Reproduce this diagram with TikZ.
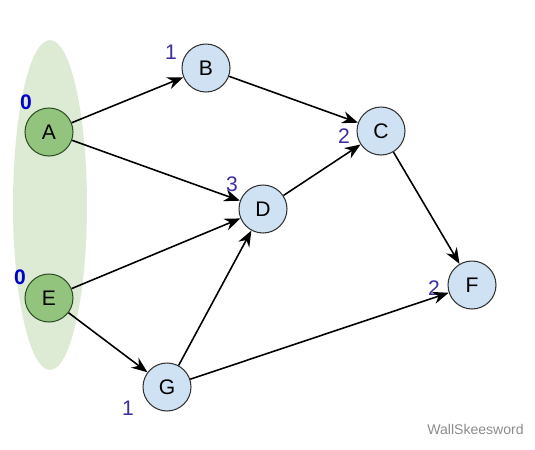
\documentclass[tikz,border=0pt]{standalone}
\usepackage{fontspec}
\setmainfont{Liberation Sans}
\usetikzlibrary{arrows.meta, positioning, shapes.geometric}
\definecolor{srcgreen}{HTML}{93C47D}
\definecolor{srcborder}{HTML}{2F4F27}
\definecolor{grpgreen}{HTML}{DDEBD5}
\definecolor{vtxblue}{HTML}{CFE2F3}
\definecolor{lvlblue}{HTML}{3A2FA0}
\begin{document}
\begin{tikzpicture}[
    x=0.02cm, y=-0.02cm,
    source/.style={circle, draw=srcborder, fill=srcgreen, minimum size=0.96cm,
                   inner sep=0pt, font=\large, line width=0.6pt},
    vertex/.style={circle, draw=black!80, fill=vtxblue, minimum size=0.96cm,
                   inner sep=0pt, font=\large, line width=0.6pt},
    level/.style={font=\large, text=lvlblue},
    srclevel/.style={font=\large\bfseries, text=blue!80!black},
    arrow/.style={-{Stealth[length=9pt, width=7pt]}, line width=0.9pt}
]

% Background and source group
\useasboundingbox (0,0) rectangle (535,450);
\node[ellipse, fill=grpgreen, minimum width=1.48cm, minimum height=6.6cm,
      inner sep=0pt] at (50,205) (group) {};

% Vertices
\node[source] at (49,132) (A) {A};
\node[vertex] at (206,68) (B) {B};
\node[vertex] at (381,131) (C) {C};
\node[vertex] at (263,209) (D) {D};
\node[source] at (49,298) (E) {E};
\node[vertex] at (472,285) (F) {F};
\node[vertex] at (167,387) (G) {G};

% Levels
\node[srclevel] at (26,102) (lA) {0};
\node[level] at (171,52) (lB) {1};
\node[level] at (344,136) (lC) {2};
\node[level] at (232,184) (lD) {3};
\node[srclevel] at (20,277) (lE) {0};
\node[level] at (434,288) (lF) {2};
\node[level] at (128,408) (lG) {1};

% Edges
\draw[arrow] (A) -- (B);
\draw[arrow] (A) -- (D);
\draw[arrow] (B) -- (C);
\draw[arrow] (D) -- (C);
\draw[arrow] (C) -- (F);
\draw[arrow] (E) -- (D);
\draw[arrow] (E) -- (G);
\draw[arrow] (G) -- (D);
\draw[arrow] (G) -- (F);

% Watermark
\node[font=\footnotesize, text=black!45, anchor=west, inner sep=0pt]
      at (427,429) (mark) {WallSkeesword};

\end{tikzpicture}
\end{document}
